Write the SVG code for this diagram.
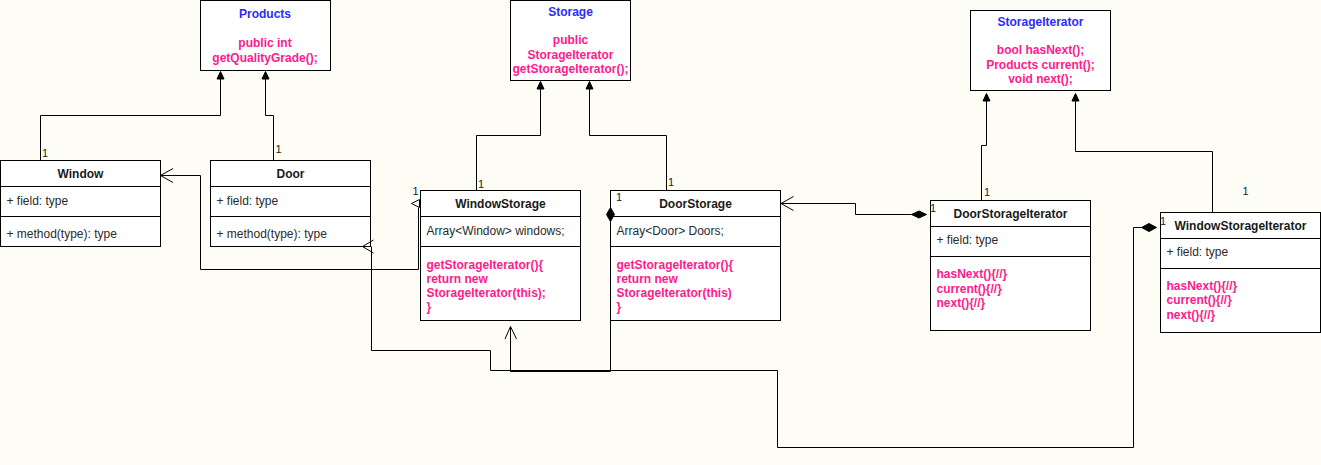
<svg xmlns="http://www.w3.org/2000/svg" width="1321" height="465" viewBox="0 0 1321 465">
<defs>
<style>
text{font-family:"Liberation Sans",Arial,Helvetica,sans-serif;font-size:12px;}
.box{fill:#ffffff;stroke:#000;stroke-width:1;}
.sep{stroke:#000;stroke-width:1;fill:none;}
.title{font-weight:bold;fill:#1a1a1a;text-anchor:middle;}
.iname{font-weight:bold;fill:#2b2bff;text-anchor:middle;}
.ipink{font-weight:bold;fill:#ff1a8c;text-anchor:middle;}
.pink{font-weight:bold;fill:#ff1a8c;}
.plain{fill:#2a2a2a;}
.lbl{font-size:11px;fill:#222;}
.ln{fill:none;stroke:#000;stroke-width:1;}
.tri{fill:#000;stroke:#000;stroke-width:1;}
.dia{fill:#000;stroke:#000;stroke-width:1;}
.hdia{fill:#fff;stroke:#000;stroke-width:1;}
</style>
</defs>
<rect x="0" y="0" width="1321" height="465" fill="#fdfdf5"/>

<g id="Products">
  <rect class="box" x="200.5" y="0.5" width="130" height="70"/>
  <text class="iname" x="265" y="18">Products</text>
  <text class="ipink" x="265" y="47">public int</text>
  <text class="ipink" x="265" y="61.5">getQualityGrade();</text>
</g>

<g id="Storage">
  <rect class="box" x="510.5" y="0.5" width="120" height="80"/>
  <text class="iname" x="570.5" y="16">Storage</text>
  <text class="ipink" x="570.5" y="44">public</text>
  <text class="ipink" x="570.5" y="58.5">StorageIterator</text>
  <text class="ipink" x="570.5" y="73">getStorageIterator();</text>
</g>

<g id="StorageIterator">
  <rect class="box" x="970.5" y="10.5" width="140" height="80"/>
  <text class="iname" x="1040.5" y="26">StorageIterator</text>
  <text class="ipink" x="1040.5" y="54">bool hasNext();</text>
  <text class="ipink" x="1040.5" y="68.5">Products current();</text>
  <text class="ipink" x="1040.5" y="83">void next();</text>
</g>

<g id="Window">
  <rect class="box" x="0.5" y="160.5" width="160" height="86"/>
  <line class="sep" x1="0.5" y1="186.5" x2="160.5" y2="186.5"/>
  <line class="sep" x1="0.5" y1="216.5" x2="160.5" y2="216.5"/>
  <text class="title" x="80.5" y="178">Window</text>
  <text class="plain" x="6.5" y="204.5">+ field: type</text>
  <text class="plain" x="6.5" y="238">+ method(type): type</text>
</g>

<g id="Door">
  <rect class="box" x="210.5" y="160.5" width="160" height="86"/>
  <line class="sep" x1="210.5" y1="186.5" x2="370.5" y2="186.5"/>
  <line class="sep" x1="210.5" y1="216.5" x2="370.5" y2="216.5"/>
  <text class="title" x="290.5" y="178">Door</text>
  <text class="plain" x="216.5" y="204.5">+ field: type</text>
  <text class="plain" x="216.5" y="238">+ method(type): type</text>
</g>

<g id="WindowStorage">
  <rect class="box" x="420.5" y="190.5" width="160" height="130"/>
  <line class="sep" x1="420.5" y1="216.5" x2="580.5" y2="216.5"/>
  <line class="sep" x1="420.5" y1="246.5" x2="580.5" y2="246.5"/>
  <text class="title" x="500.5" y="208">WindowStorage</text>
  <text class="plain" x="426.5" y="234.5">Array&lt;Window&gt; windows;</text>
  <text class="pink" x="426.5" y="268.5">getStorageIterator(){</text>
  <text class="pink" x="426.5" y="282.5">return new</text>
  <text class="pink" x="426.5" y="297">StorageIterator(this);</text>
  <text class="pink" x="426.5" y="311">}</text>
</g>

<g id="DoorStorage">
  <rect class="box" x="610.5" y="190.5" width="170" height="130"/>
  <line class="sep" x1="610.5" y1="216.5" x2="780.5" y2="216.5"/>
  <line class="sep" x1="610.5" y1="246.5" x2="780.5" y2="246.5"/>
  <text class="title" x="695.5" y="208">DoorStorage</text>
  <text class="plain" x="616.5" y="234.5">Array&lt;Door&gt; Doors;</text>
  <text class="pink" x="616.5" y="268.5">getStorageIterator(){</text>
  <text class="pink" x="616.5" y="282.5">return new</text>
  <text class="pink" x="616.5" y="297">StorageIterator(this)</text>
  <text class="pink" x="616.5" y="311">}</text>
</g>

<g id="DoorStorageIterator">
  <rect class="box" x="930.5" y="200.5" width="160" height="130"/>
  <line class="sep" x1="930.5" y1="226.5" x2="1090.5" y2="226.5"/>
  <line class="sep" x1="930.5" y1="256.5" x2="1090.5" y2="256.5"/>
  <text class="title" x="1010.5" y="218">DoorStorageIterator</text>
  <text class="plain" x="936.5" y="244">+ field: type</text>
  <text class="pink" x="936.5" y="278">hasNext(){//}</text>
  <text class="pink" x="936.5" y="292.5">current(){//}</text>
  <text class="pink" x="936.5" y="307">next(){//}</text>
</g>

<g id="WindowStorageIterator">
  <rect class="box" x="1160.5" y="212.5" width="160" height="120"/>
  <line class="sep" x1="1160.5" y1="238.5" x2="1320.5" y2="238.5"/>
  <line class="sep" x1="1160.5" y1="268.5" x2="1320.5" y2="268.5"/>
  <text class="title" x="1240.5" y="230">WindowStorageIterator</text>
  <text class="plain" x="1166.5" y="256">+ field: type</text>
  <text class="pink" x="1166.5" y="290">hasNext(){//}</text>
  <text class="pink" x="1166.5" y="304">current(){//}</text>
  <text class="pink" x="1166.5" y="319">next(){//}</text>
</g>

<g id="connectors">
  <!-- Window -> Products -->
  <polyline class="ln" points="40.5,160 40.5,115.5 220.5,115.5 220.5,79"/>
  <polygon class="tri" points="220.5,71.5 217,79 224,79"/>
  <!-- Door -> Products -->
  <polyline class="ln" points="273.5,160 273.5,115.5 265.5,115.5 265.5,79"/>
  <polygon class="tri" points="265.5,71.5 262,79 269,79"/>
  <!-- WindowStorage -> Storage -->
  <polyline class="ln" points="476.5,190 476.5,135.5 540.5,135.5 540.5,89"/>
  <polygon class="tri" points="540.5,81.5 537,89 544,89"/>
  <!-- DoorStorage -> Storage -->
  <polyline class="ln" points="666.5,190 666.5,135.5 589.5,135.5 589.5,89"/>
  <polygon class="tri" points="589.5,81.5 586,89 593,89"/>
  <!-- DoorStorageIterator -> StorageIterator -->
  <polyline class="ln" points="981.5,200 981.5,145.5 986.5,145.5 986.5,101"/>
  <polygon class="tri" points="986.5,93.5 983,101 990,101"/>
  <!-- WindowStorageIterator -> StorageIterator -->
  <polyline class="ln" points="1212.5,212 1212.5,151.5 1075.5,151.5 1075.5,101"/>
  <polygon class="tri" points="1075.5,93.5 1072,101 1079,101"/>
  <!-- WindowStorage (hollow diamond) -> Window -->
  <polyline class="ln" points="418.5,207.5 418.5,269.5 200.5,269.5 200.5,175.5 160.5,175.5"/>
  <polyline class="ln" points="173,168.5 160.5,175.5 173,182.5"/>
  <polygon class="hdia" points="419.5,199.5 411.5,203.5 419.5,207.5"/>
  <!-- WindowStorageIterator (diamond) -> Door -->
  <polyline class="ln" points="1141.5,227.5 1133.5,227.5 1133.5,447.5 777.5,447.5 777.5,370.5 490.5,370.5 490.5,350.5 371.5,350.5 371.5,246.5"/>
  <polyline class="ln" points="373.5,240 362.5,246.5 373.5,253"/>
  <polygon class="dia" points="1141.5,227.5 1149,223.5 1156.5,227.5 1149,231.5"/>
  <!-- DoorStorage (diamond) -> WindowStorage -->
  <polyline class="ln" points="610.5,222 610.5,371.5 510.5,371.5 510.5,327"/>
  <polyline class="ln" points="505,339 510.5,326.5 516.5,339"/>
  <polygon class="dia" points="610.5,207.5 614.5,214.5 610.5,221.5 606.5,214.5"/>
  <!-- DoorStorageIterator (diamond) -> DoorStorage -->
  <polyline class="ln" points="911.5,214.5 855.5,214.5 855.5,203.5 781,203.5"/>
  <polyline class="ln" points="793.5,196.5 781,203.5 793.5,210.5"/>
  <polygon class="dia" points="911.5,214.5 919,211 926.5,214.5 919,218"/>
  <!-- multiplicity labels -->
  <text class="lbl" x="42" y="157">1</text>
  <text class="lbl" x="275.5" y="153">1</text>
  <text class="lbl" x="412.5" y="195">1</text>
  <text class="lbl" x="478" y="188">1</text>
  <text class="lbl" x="616" y="201">1</text>
  <text class="lbl" x="668" y="186">1</text>
  <text class="lbl" x="984" y="196">1</text>
  <text class="lbl" x="1242.5" y="195">1</text>
  <text class="lbl" x="930" y="212">1</text>
  <text class="lbl" x="1160" y="225">1</text>
</g>
</svg>
